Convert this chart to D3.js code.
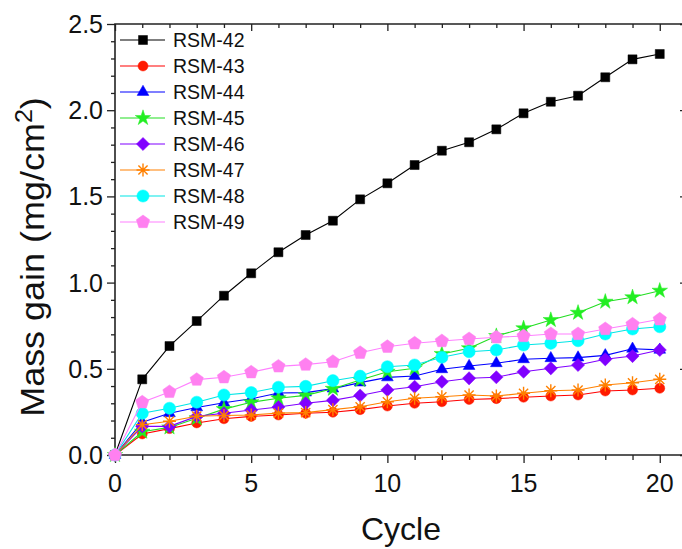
<!DOCTYPE html>
<html>
<head>
<meta charset="utf-8">
<script src="https://cdn.jsdelivr.net/npm/d3@7"></script>
<style>
  html, body { margin: 0; padding: 0; background: #fff; }
  svg { display: block; font-family: Arial, "Liberation Sans", sans-serif; }
</style>
</head>
<body>
<svg id="chart" width="682" height="549"></svg>
<script>
// Oxidation mass gain per cycle for each sample
const cycles = d3.range(0, 21);
const seriesNames = ["RSM-42", "RSM-43", "RSM-44", "RSM-45", "RSM-46", "RSM-47", "RSM-48", "RSM-49"];
const rsm42 = [0, 0.439, 0.632, 0.777, 0.924, 1.054, 1.176, 1.276, 1.359, 1.483, 1.576, 1.682, 1.765, 1.814, 1.889, 1.982, 2.049, 2.084, 2.191, 2.295, 2.326];
const rsm43 = [0, 0.122, 0.153, 0.186, 0.210, 0.224, 0.232, 0.242, 0.248, 0.263, 0.284, 0.300, 0.309, 0.322, 0.327, 0.335, 0.342, 0.348, 0.371, 0.377, 0.387];
const rsm44 = [0, 0.190, 0.242, 0.276, 0.303, 0.326, 0.360, 0.362, 0.385, 0.420, 0.450, 0.458, 0.497, 0.516, 0.532, 0.555, 0.561, 0.565, 0.578, 0.616, 0.610];
const rsm45 = [0, 0.135, 0.160, 0.213, 0.266, 0.306, 0.329, 0.346, 0.384, 0.435, 0.483, 0.503, 0.586, 0.619, 0.690, 0.735, 0.783, 0.825, 0.889, 0.915, 0.953];
const rsm46 = [0, 0.166, 0.166, 0.224, 0.242, 0.261, 0.278, 0.300, 0.317, 0.345, 0.377, 0.396, 0.425, 0.445, 0.451, 0.483, 0.503, 0.522, 0.555, 0.574, 0.609];
const rsm47 = [0, 0.176, 0.196, 0.225, 0.229, 0.232, 0.243, 0.246, 0.263, 0.280, 0.309, 0.329, 0.338, 0.348, 0.342, 0.358, 0.373, 0.377, 0.406, 0.419, 0.439];
const rsm48 = [0, 0.242, 0.271, 0.306, 0.348, 0.362, 0.393, 0.398, 0.431, 0.457, 0.512, 0.522, 0.567, 0.599, 0.609, 0.638, 0.648, 0.663, 0.702, 0.731, 0.744];
const rsm49 = [0, 0.306, 0.366, 0.437, 0.451, 0.480, 0.514, 0.524, 0.541, 0.593, 0.628, 0.648, 0.661, 0.673, 0.683, 0.690, 0.702, 0.702, 0.731, 0.758, 0.787];
const seriesValues = [rsm42, rsm43, rsm44, rsm45, rsm46, rsm47, rsm48, rsm49];

const xTicks = [0, 5, 10, 15, 20];
const yTicks = [0, 0.5, 1.0, 1.5, 2.0, 2.5];
const xLabel = "Cycle";

// Styling per series
const lineColors   = ["#000000", "#ff0000", "#0000ff", "#22dd22", "#8000ff", "#ff8000", "#00e5e5", "#ff80ff"];
const markerColors = ["#000000", "#ff1a00", "#0000ff", "#22ee22", "#8000ff", "#ff8000", "#00ffff", "#ff80f0"];
const markerKinds  = ["square", "circle", "triangle", "star", "diamond", "asterisk", "bigcircle", "pentagon"];

const svg = d3.select("#chart");
const plotLeft = 115, plotRight = 687, plotTop = 24, plotBottom = 455;

const x = d3.scaleLinear().domain([0, 21]).range([plotLeft, plotRight]);
const y = d3.scaleLinear().domain([0, 2.5]).range([plotBottom, plotTop]);

// Marker path generators
function polygonPath(n, r, rot) {
  const pts = d3.range(n).map(i => {
    const a = rot + i * 2 * Math.PI / n;
    return [r * Math.cos(a), r * Math.sin(a)];
  });
  return "M" + pts.map(p => p.join(",")).join("L") + "Z";
}
function markerPath(kind) {
  switch (kind) {
    case "square": return "M-4.5,-4.5H4.5V4.5H-4.5Z";
    case "circle": return d3.symbol(d3.symbolCircle, Math.PI * 5 * 5)();
    case "bigcircle": return d3.symbol(d3.symbolCircle, Math.PI * 6.1 * 6.1)();
    case "triangle": return polygonPath(3, 6.8, -Math.PI / 2);
    case "star": return d3.symbol(d3.symbolStar, 75)();
    case "diamond": return polygonPath(4, 6.6, -Math.PI / 2);
    case "pentagon": return polygonPath(5, 7, -Math.PI / 2);
    case "asterisk": {
      const r = 6.5;
      return d3.range(4).map(i => {
        const a = i * Math.PI / 4;
        const dx = r * Math.cos(a), dy = r * Math.sin(a);
        return `M${-dx},${-dy}L${dx},${dy}`;
      }).join("");
    }
  }
}
function drawMarker(sel, kind, color) {
  const p = sel.append("path").attr("d", markerPath(kind));
  if (kind === "asterisk") {
    p.attr("fill", "none").attr("stroke", color).attr("stroke-width", 1.4);
  } else {
    p.attr("fill", color).attr("stroke", color).attr("stroke-width", 0.5);
  }
  return p;
}

const axisColor = "#222";
const tickFont = "25px";

// Bottom axis (ticks outward)
const gx = svg.append("g").attr("transform", `translate(0,${plotBottom})`);
gx.call(d3.axisBottom(x).tickValues(d3.range(0, 21)).tickSize(5).tickFormat(""));
gx.call(g => g.selectAll(".tick").filter(d => d % 5 === 0).select("line").attr("y2", 8));
gx.selectAll(".domain").remove();
gx.selectAll("line").attr("stroke", axisColor).attr("stroke-width", 1.3);
xTicks.forEach(v => {
  gx.append("text").attr("x", x(v)).attr("y", 37).attr("text-anchor", "middle")
    .attr("font-size", tickFont).attr("fill", "#111").text(v);
});

// Top axis (ticks inward)
const gt = svg.append("g").attr("transform", `translate(0,${plotTop})`);
gt.call(d3.axisBottom(x).tickValues(d3.range(0, 21)).tickSize(4).tickFormat(""));
gt.call(g => g.selectAll(".tick").filter(d => d % 5 === 0).select("line").attr("y2", 7));
gt.selectAll(".domain").remove();
gt.selectAll("line").attr("stroke", axisColor).attr("stroke-width", 1.3);

// Left axis (ticks outward)
const yMinor = d3.range(0, 26).map(i => i / 10);
const gy = svg.append("g").attr("transform", `translate(${plotLeft},0)`);
gy.call(d3.axisLeft(y).tickValues(yMinor).tickSize(4).tickFormat(""));
gy.call(g => g.selectAll(".tick").filter(d => Math.abs(d * 2 - Math.round(d * 2)) < 1e-6).select("line").attr("x2", -8));
gy.selectAll(".domain").remove();
gy.selectAll("line").attr("stroke", axisColor).attr("stroke-width", 1.3);
yTicks.forEach(v => {
  gy.append("text").attr("x", -12).attr("y", y(v)).attr("dy", "0.36em").attr("text-anchor", "end")
    .attr("font-size", tickFont).attr("fill", "#111").text(v.toFixed(1));
});

// Right axis (ticks inward)
const gr = svg.append("g").attr("transform", `translate(${plotRight},0)`);
gr.call(d3.axisLeft(y).tickValues(yMinor).tickSize(4).tickFormat(""));
gr.call(g => g.selectAll(".tick").filter(d => Math.abs(d * 2 - Math.round(d * 2)) < 1e-6).select("line").attr("x2", -7));
gr.selectAll(".domain").remove();
gr.selectAll("line").attr("stroke", axisColor).attr("stroke-width", 1.3);

// Frame
svg.append("path")
  .attr("d", `M${plotLeft},${plotTop}H${plotRight}V${plotBottom}H${plotLeft}Z`)
  .attr("fill", "none").attr("stroke", axisColor).attr("stroke-width", 1.6);

// Series lines and markers
const line = d3.line().x((d, i) => x(cycles[i])).y(d => y(d));
const plot = svg.append("g");
seriesValues.forEach((vals, k) => {
  const g = plot.append("g");
  g.append("path").attr("d", line(vals)).attr("fill", "none")
    .attr("stroke", lineColors[k]).attr("stroke-width", 1.1);
  vals.forEach((v, i) => {
    const m = g.append("g").attr("transform", `translate(${x(cycles[i])},${y(v)})`);
    drawMarker(m, markerKinds[k], markerColors[k]);
  });
});

// Legend
const legend = svg.append("g");
seriesNames.forEach((name, k) => {
  const ly = 40 + k * 26;
  legend.append("line").attr("x1", 120).attr("x2", 165).attr("y1", ly).attr("y2", ly)
    .attr("stroke", lineColors[k]).attr("stroke-width", 1.2);
  const m = legend.append("g").attr("transform", `translate(143,${ly})`);
  drawMarker(m, markerKinds[k], markerColors[k]);
  legend.append("text").attr("x", 173).attr("y", ly).attr("dy", "0.36em")
    .attr("font-size", "19.5px").attr("fill", "#111").text(name);
});

// Axis titles
svg.append("text").attr("x", (plotLeft + plotRight) / 2).attr("y", 540).attr("text-anchor", "middle")
  .attr("font-size", "32px").attr("fill", "#111").text(xLabel);

const yt = svg.append("text").attr("transform", "translate(44,257) rotate(-90) scale(1.09,1)")
  .attr("text-anchor", "middle").attr("font-size", "33px").attr("fill", "#111");
yt.append("tspan").text("Mass gain (mg/cm");
yt.append("tspan").attr("baseline-shift", "super").attr("font-size", "23px").text("2");
yt.append("tspan").text(")");
</script>
</body>
</html>
